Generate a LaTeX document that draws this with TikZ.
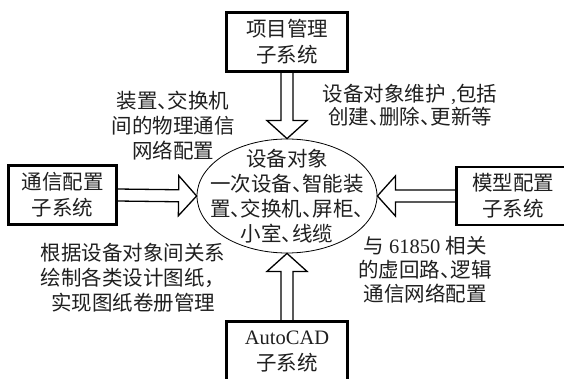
\documentclass[tikz,border=0pt]{standalone}
\usepackage{fontspec}
\setmainfont{Noto Sans CJK SC}
\newfontfamily\lat{Liberation Serif}
\usetikzlibrary{shapes.geometric,calc}
\newcommand\dn{、\kern-0.5em}
\newcommand\blockarrow[2]{%
  \draw[barrow] let \p1=(#1), \p2=(#2),
    \n1={atan2(\y2-\y1,\x2-\x1)}, \n2={veclen(\x2-\x1,\y2-\y1)} in
    [shift={(\p1)}, rotate=\n1]
    (0pt,-6pt) -- (\n2-18pt,-6pt) -- (\n2-18pt,-20pt) -- (\n2,0pt)
    -- (\n2-18pt,20pt) -- (\n2-18pt,6pt) -- (0pt,6pt) -- cycle;}
\tikzset{
  txt/.style={font=\fontsize{20.5}{25}\selectfont, text=black!88, align=center, inner sep=0pt},
  sysbox/.style={txt, draw=black, line width=1.6pt, fill=white, inner sep=0pt,
    font=\fontsize{20.5}{26}\selectfont},
  barrow/.style={draw=black, line width=1.3pt, fill=white, line join=miter},
  ellipsebox/.style={ellipse, draw=black, line width=0.8pt, minimum width=180pt,
    minimum height=114pt, inner sep=0pt}
}
\begin{document}
\begin{tikzpicture}[x=1pt,y=-1pt]
\useasboundingbox (0,0) rectangle (564,379);
\clip (0,0) rectangle (564,379);
\fill[white] (0,0) rectangle (564,379);
% central ellipse
\node[ellipsebox] (ell) at (287,196) {};
\node[txt] (elltxt) at (287,196) {设备对象\\一次设备\dn 智能装\\置\dn 交换机\dn 屏柜\dn\\小室\dn 线缆};
% boxes
\node[sysbox, minimum width=120pt, minimum height=58pt] (top) at (287,42) {项目管理\\子系统};
\node[sysbox, minimum width=107pt, minimum height=58pt] (left) at (62.5,195) {通信配置\\子系统};
\node[sysbox, minimum width=112pt, minimum height=57pt] (right) at (513,196) {模型配置\\子系统};
\node[sysbox, minimum width=120pt, minimum height=60pt] (bot) at (287,352) {{\lat AutoCAD}\\子系统};
% block arrows
\blockarrow{top.south}{ell.north}
\blockarrow{left.east}{ell.west}
\blockarrow{right.west}{ell.east}
\blockarrow{bot.north}{ell.south}
% redraw boxes borders over arrow joints
\draw[line width=1.6pt] (top.south west) rectangle (top.north east);
\draw[line width=1.6pt] (left.south west) rectangle (left.north east);
\draw[line width=1.6pt] (right.south west) rectangle (right.north east);
\draw[line width=1.6pt] (bot.south west) rectangle (bot.north east);
% labels
\node[txt] (l1) at (173,126) {装置\dn 交换机\\间的物理通信\\网络配置};
\node[txt, font=\fontsize{20.5}{23}\selectfont] (l2) at (410,105) {设备对象维护\hspace{0.25em}{\lat ,}包括\\创建\dn 删除\dn 更新等};
\node[txt] (l3) at (133,278) {根据设备对象间关系\\绘制各类设计图纸，\\实现图纸卷册管理};
\node[txt, font=\fontsize{20.5}{24}\selectfont] (l4) at (425,270) {与\hspace{0.25em}{\lat 61850}\hspace{0.25em}相关\\的虚回路\dn 逻辑\\通信网络配置};
\end{tikzpicture}
\end{document}
